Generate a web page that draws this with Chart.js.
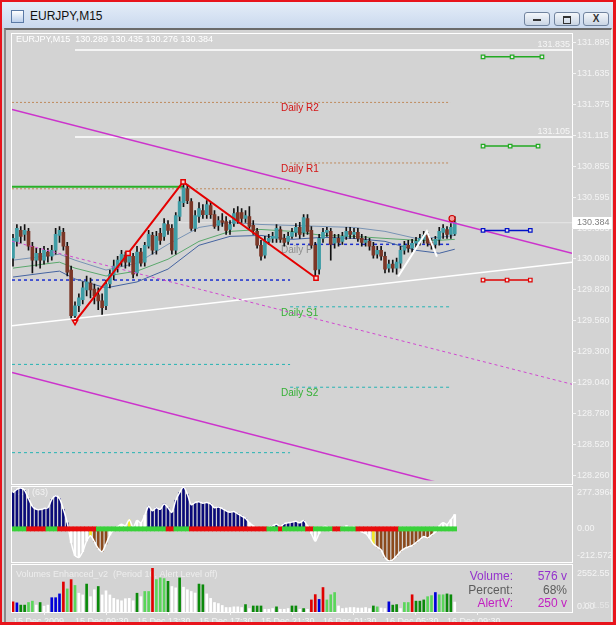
<!DOCTYPE html>
<html>
<head>
<meta charset="utf-8">
<script src="https://cdn.jsdelivr.net/npm/chart.js@4.4.1/dist/chart.umd.min.js"></script>
<style>
html, body { margin: 0; padding: 0; }
body { width: 616px; height: 625px; position: relative; overflow: hidden; background: #d3d3d3; font-family: 'Liberation Sans', Arial, sans-serif; }
#frame { position: absolute; left: 0; top: 0; width: 616px; height: 625px; box-sizing: border-box; border: 2px solid #e8141c; border-right-width: 3px; border-bottom-width: 3px; z-index: 20; pointer-events: none; }
#titlebar { position: absolute; left: 2px; top: 2px; width: 611px; height: 26px; background: linear-gradient(#e4edf8, #cad9ee); }
#appicon { position: absolute; left: 9px; top: 8px; width: 11px; height: 11px; border: 1px solid #5b7aa6; background: linear-gradient(#ffffff, #bcd0ec); }
#title { position: absolute; left: 28px; top: 7px; font-size: 12px; color: #111; }
.btn { position: absolute; top: 10px; width: 24px; height: 12px; border: 1px solid #70839e; border-radius: 3px; background: linear-gradient(#f4f7fb, #c9d5e4); }
.btn .min { position: absolute; left: 8px; top: 6px; width: 8px; height: 2px; background: #333; }
.btn .rest { position: absolute; left: 8px; top: 3px; width: 6px; height: 5px; border: 1px solid #333; border-top-width: 2px; }
.btn .cls { position: absolute; left: 0; top: 0; width: 24px; text-align: center; font-size: 10px; line-height: 12px; font-weight: bold; color: #333; }
#win { position: absolute; left: 4px; top: 28px; width: 608px; height: 594px; box-sizing: border-box; border-top: 2px solid #6b6b6b; border-left: 2px solid #8a8a8a; border-right: 1px solid #efefef; }
.panel { position: absolute; left: 11px; width: 562px; box-sizing: border-box; border: 1px solid #ffffff; }
canvas { position: absolute; left: 0; z-index: 5; }
</style>
</head>
<body>
<div id="titlebar">
  <div id="appicon"></div>
  <div id="title">EURJPY,M15</div>
  <div class="btn" style="left:522px"><div class="min"></div></div>
  <div class="btn" style="left:552px"><div class="rest"></div></div>
  <div class="btn" style="left:581px"><div class="cls">X</div></div>
</div>
<div id="win"></div>
<div class="panel" style="top:33px;height:452px"></div>
<div class="panel" style="top:486px;height:77px"></div>
<div class="panel" style="top:564px;height:49px"></div>
<canvas id="priceChart" width="616" height="458" style="top:28px"></canvas>
<canvas id="cciChart" width="616" height="78" style="top:485px"></canvas>
<canvas id="volChart" width="616" height="62" style="top:563px"></canvas>
<div id="frame"></div>
<script>
// EURJPY M15 candles, 15 Dec 2009 05:30 .. 16 Dec 10:00
const openP = [130.086,130.227,130.319,130.286,130.311,130.186,130.069,130.127,130.069,130.136,
130.102,130.152,130.277,130.302,130.186,129.986,129.602,129.686,129.736,129.819,
129.877,129.827,129.777,129.727,129.686,129.869,129.944,130.011,130.061,130.111,
130.052,130.102,129.961,130.136,130.052,130.186,130.277,130.152,130.294,130.269,
130.369,130.336,130.152,130.436,130.552,130.669,130.561,130.336,130.436,130.486,
130.452,130.527,130.452,130.361,130.402,130.394,130.327,130.377,130.469,130.469,
130.419,130.436,130.361,130.311,130.194,130.111,130.227,130.252,130.252,130.327,
130.252,130.227,130.269,130.302,130.344,130.302,130.419,130.319,130.194,129.994,
130.252,130.302,130.311,130.211,130.252,130.227,130.269,130.311,130.286,130.302,
130.252,130.219,130.227,130.186,130.119,130.152,130.102,130.002,130.036,130.002,
130.044,130.152,130.194,130.169,130.211,130.227,130.244,130.277,130.219,130.202,
130.244,130.302,130.327,130.286,130.289];
const highP = [130.286,130.369,130.352,130.369,130.336,130.219,130.169,130.169,130.186,130.169,
130.194,130.336,130.352,130.336,130.219,130.019,129.719,129.786,129.886,129.936,
129.919,129.869,129.836,129.786,129.902,129.986,130.069,130.102,130.152,130.136,
130.136,130.127,130.186,130.169,130.219,130.319,130.302,130.311,130.336,130.419,
130.402,130.369,130.469,130.602,130.727,130.702,130.586,130.486,130.552,130.536,
130.569,130.552,130.486,130.436,130.461,130.436,130.402,130.502,130.519,130.502,
130.486,130.519,130.402,130.336,130.236,130.269,130.286,130.302,130.369,130.352,
130.286,130.302,130.336,130.377,130.386,130.452,130.452,130.352,130.219,130.286,
130.336,130.344,130.336,130.286,130.286,130.302,130.344,130.344,130.336,130.336,
130.286,130.269,130.252,130.219,130.186,130.186,130.136,130.069,130.069,130.086,
130.186,130.227,130.236,130.244,130.261,130.286,130.311,130.302,130.252,130.269,
130.344,130.369,130.352,130.377,130.435];
const lowP = [130.019,130.186,130.211,130.236,130.152,129.961,130.019,130.002,130.036,130.052,
130.069,130.119,130.219,130.152,129.936,129.569,129.552,129.636,129.702,129.769,
129.752,129.702,129.652,129.611,129.652,129.836,129.902,129.969,130.019,130.002,
130.019,129.919,129.936,130.019,130.019,130.169,130.119,130.119,130.202,130.236,
130.286,130.119,130.119,130.402,130.519,130.544,130.319,130.311,130.386,130.419,
130.419,130.419,130.336,130.319,130.352,130.286,130.286,130.352,130.377,130.386,
130.386,130.336,130.286,130.169,130.069,130.086,130.202,130.219,130.219,130.219,
130.186,130.202,130.252,130.269,130.252,130.269,130.286,130.169,129.919,129.952,
130.219,130.269,130.069,130.169,130.186,130.202,130.244,130.252,130.252,130.227,
130.186,130.186,130.152,130.086,130.086,130.069,129.961,129.969,129.969,129.952,
130.002,130.119,130.136,130.136,130.177,130.194,130.211,130.186,130.161,130.169,
130.194,130.252,130.252,130.252,130.276];
const closeP = [130.252,130.336,130.269,130.319,130.186,130.069,130.127,130.069,130.152,130.102,
130.152,130.286,130.319,130.186,129.969,129.602,129.686,129.752,129.836,129.886,
129.819,129.769,129.727,129.669,129.869,129.952,130.019,130.069,130.119,130.052,
130.102,129.952,130.136,130.044,130.194,130.286,130.152,130.269,130.236,130.377,
130.319,130.152,130.444,130.561,130.677,130.569,130.336,130.444,130.502,130.452,
130.536,130.452,130.352,130.402,130.386,130.319,130.369,130.461,130.402,130.419,
130.444,130.352,130.319,130.194,130.102,130.227,130.252,130.269,130.336,130.244,
130.219,130.269,130.302,130.344,130.286,130.427,130.311,130.194,129.986,130.252,
130.302,130.319,130.202,130.252,130.219,130.269,130.311,130.286,130.302,130.252,
130.219,130.236,130.186,130.111,130.152,130.102,129.994,130.036,130.002,130.052,
130.152,130.194,130.169,130.211,130.227,130.252,130.277,130.211,130.194,130.244,
130.311,130.336,130.286,130.344,130.384];

// moving-average envelope read at some bars
const maIndex  = [0, 8, 12, 16, 24, 32, 40, 48, 56, 64, 72, 80, 88, 96, 104, 110, 114];
const maUpper  = [130.069,130.102,130.119,130.069,129.986,130.044,130.202,130.344,130.386,130.369,130.361,130.352,130.344,130.311,130.252,130.261,130.277];
const maMiddle = [130.002,130.036,130.052,130.002,129.936,129.977,130.077,130.227,130.311,130.327,130.311,130.277,130.269,130.252,130.236,130.236,130.244];
const maLower  = [129.927,129.961,129.977,129.911,129.836,129.886,129.994,130.194,130.269,130.277,130.244,130.261,130.252,130.227,130.152,130.127,130.161];

const priceTicks = [131.895,131.635,131.375,131.115,130.855,130.595,130.335,130.080,129.820,129.560,129.300,129.040,128.780,128.520,128.260];
const timeTickIndex = [0, 16, 32, 48, 64, 80, 96, 112];
const timeLabels = ['15 Dec 2009','15 Dec 09:30','15 Dec 13:30','15 Dec 17:30','15 Dec 21:30','16 Dec 01:30','16 Dec 05:30','16 Dec 09:30'];

// pivots: previous day (left part) and current day (right part)
const pivotNames = ['Daily R2','Daily R1','Daily P','Daily S1','Daily S2'];
const pivotPrev  = [131.395, 130.669, 129.902, 129.193, 128.451];
const pivotToday = [131.395, 130.886, 130.202, 129.677, 129.001];
const dayStart = 71.5, pivotEnd = 112.8;

// drawn objects, [bar index, price]
const channelTop    = [[-0.26, 131.336], [144.26, 130.127]];
const channelBottom = [[-0.26, 129.126], [144.26, 127.908]];
const channelMid    = [[-0.26, 130.227], [144.26, 129.026]];
const supportLine   = [[-0.26, 129.518], [144.26, 130.052]];
const zigzagRed     = [[16, 129.552], [29.7, 130.127], [43.9, 130.727], [78.2, 129.919]];
const zigzagWhite   = [[99.4, 129.932], [106.8, 130.313], [109.4, 130.099]];
const whiteLevels   = [131.835, 131.105];
const whiteLevelStart = 16;
const greenLevel    = [[-0.26, 130.686], [43.9, 130.686]];
const targetPrices  = [131.778, 131.028, 130.319, 129.902];
const targetBars    = [[121.3, 128.8, 136.5], [121.3, 128.3, 135.5], [121.3, 127.5, 133.5], [121.3, 127.5, 133.5]];
const signalPoint   = [113.3, 130.419];

// CCI(63)
const cciValues = [240,262,270,255,200,150,130,128,135,140,
195,220,200,130,40,-90,-175,-188,-150,-80,
-45,-85,-130,-150,-100,-40,-5,15,30,20,
60,10,55,40,90,150,120,140,130,165,
140,110,190,240,277,230,160,175,180,170,
175,165,140,145,135,120,110,115,100,85,
70,40,20,5,-10,-5,10,20,30,15,
35,40,45,50,40,55,20,-30,-80,-30,
10,15,-15,-5,-10,5,20,10,15,-5,
-20,-30,-60,-100,-120,-140,-190,-212,-205,-180,
-150,-130,-120,-110,-90,-70,-50,-60,-40,-20,
20,40,30,60,95];
const cciStates = 'nnnnnnnnnnnnnnnwwwwwybbbbwwwwwywwwwnnnnnnnnnnnnnnnnnnnnnnnnnnwwwwwnnnnnnnnnnwwwwwwwwwwwwwwwwwybbbbbbbbbbbbbbbwwwwww';
const trendStates = 'ggggrrrrrgggrrrrrrrrrrggggggggggggggggggrrggggrrrrrrrrrrrrrrrrrrrrgggrggggggrrgggggrrggggrrrrrrrrrrrggggggggggggggg';
const cciTicks = [277.3968, 0, -212.572];
const cciTickText = ['277.3968', '0.00', '-212.572'];

// Volumes Enhanced_v2
const volumes = [590,530,400,400,550,630,400,550,340,400,
830,830,1050,1740,1340,1880,1540,1090,990,1620,
890,1290,1480,990,1230,990,790,710,650,770,
790,650,1090,890,1190,1190,2552,1880,1980,1940,
1780,1480,1400,1980,1440,1290,1190,1100,1620,1580,
1050,790,550,490,380,260,260,300,300,260,
430,200,350,350,350,160,160,200,300,160,
160,200,350,350,160,200,160,700,1010,730,
1420,700,1000,1130,350,200,230,260,260,230,
230,260,200,350,300,230,200,590,400,430,
200,550,550,1000,630,630,700,890,950,1130,
1000,1000,1050,1000,576];
const volumeStates = 'rbddllwdwwbbbrlrlwwdwwdwwwwwwwwwdwllrllldwwdwwwwddwwwwwwwwwwdwdddwwwdwwwddwdwrrbrlllwwwwwwwwwdlwwbddwllrdddllbllddw';
const volTicks = [2552.55, 0];
const volTickText = ['2552.55', '0.00'];

const xMin = -0.26, xMax = 144.26;
const lastBar = closeP.length - 1;
const FONT = 'Liberation Sans';
const axisText = '#f4f4f4';

const cciColors = { n: '#0a0a78', w: '#ffffff', y: '#f2e82a', b: '#8b4a1c' };
const trendColors = { g: '#39d13a', r: '#e80c0c' };
const volColors = { r: '#e00000', b: '#0000d8', d: '#0a8a0a', l: '#5ad65a', w: '#ffffff' };

// right price scale: fixed width, no extra room reserved for labels
function fixedWidth(scale) {
    scale.width = 40;
    scale.paddingTop = 0;
    scale.paddingBottom = 0;
}

function pts(list) { return list.map(p => ({ x: p[0], y: p[1] })); }

function line(points, color, opts) {
    return Object.assign({
        type: 'line', data: pts(points), borderColor: color, borderWidth: 1,
        pointRadius: 0, tension: 0, order: 20
    }, opts || {});
}

function xScale(show) {
    return { type: 'linear', min: xMin, max: xMax, offset: false, display: show };
}

// ---------- main price window ----------
const pivotLineColors = ['#bf8a5c', '#bf8a5c', '#1c2ecf', '#25b3b3', '#25b3b3'];
const pivotTextColors = ['#d41414', '#d41414', '#8d8d8d', '#35b035', '#35b035'];
const pivotDash = [[2, 2], [2, 2], [3, 3], [3, 3], [3, 3]];

const mainDatasets = [];
pivotNames.forEach((name, k) => {
    mainDatasets.push(line([[xMin, pivotPrev[k]], [dayStart, pivotPrev[k]]], pivotLineColors[k],
        { borderDash: pivotDash[k], borderWidth: k === 2 ? 1.5 : 1 }));
    mainDatasets.push(line([[dayStart, pivotToday[k]], [pivotEnd, pivotToday[k]]], pivotLineColors[k],
        { borderDash: pivotDash[k], borderWidth: k === 2 ? 1.5 : 1 }));
});
mainDatasets.push(line([[xMin, closeP[lastBar]], [xMax, closeP[lastBar]]], '#e6e6e6', { order: 21 }));
whiteLevels.forEach(v => mainDatasets.push(line([[whiteLevelStart, v], [xMax, v]], '#ffffff', { borderWidth: 1.5, order: 19 })));
mainDatasets.push(line(greenLevel, '#28b028', { borderWidth: 2, order: 19 }));
mainDatasets.push(line(maIndex.map((b, k) => [b, maUpper[k]]), '#7893b4', { order: 8 }));
mainDatasets.push(line(maIndex.map((b, k) => [b, maMiddle[k]]), '#5aa86c', { order: 8 }));
mainDatasets.push(line(maIndex.map((b, k) => [b, maLower[k]]), '#4564a0', { order: 8 }));
mainDatasets.push({
    type: 'bar', order: 6, grouped: false, barThickness: 1,
    data: lowP.map((l, i) => ({ x: i, y: [l, highP[i]] })),
    backgroundColor: '#111111'
});
mainDatasets.push({
    type: 'bar', order: 5, grouped: false, barThickness: 3,
    data: openP.map((o, i) => ({ x: i, y: [o, closeP[i]] })),
    backgroundColor: openP.map((o, i) => closeP[i] >= o ? '#3f9da6' : '#7b3727')
});
mainDatasets.push(line(channelTop, '#cc33cc', { borderWidth: 1.5, order: 3 }));
mainDatasets.push(line(channelBottom, '#cc33cc', { borderWidth: 1.5, order: 3 }));
mainDatasets.push(line(channelMid, '#d048d0', { borderDash: [3, 3], order: 3 }));
mainDatasets.push(line(supportLine, '#ffffff', { borderWidth: 1.5, order: 3 }));
mainDatasets.push(line(zigzagRed, '#e40000', {
    borderWidth: 2, order: 2, pointRadius: 3, pointBorderWidth: 1.5,
    pointStyle: ctx => ctx.dataIndex === 0 ? 'triangle' : 'rect',
    pointRotation: ctx => ctx.dataIndex === 0 ? 180 : 0,
    pointBackgroundColor: '#f0d0d0', pointBorderColor: '#e40000'
}));
mainDatasets.push(line(zigzagWhite, '#ffffff', { borderWidth: 2, order: 2 }));
const targetColors = ['#22aa22', '#22aa22', '#0010c8', '#e00000'];
targetPrices.forEach((v, k) => {
    mainDatasets.push(line(targetBars[k].map(b => [b, v]), targetColors[k], {
        borderWidth: 1.5, order: 1, pointRadius: 2.5, pointStyle: 'rect', pointBorderWidth: 1.2,
        pointBackgroundColor: '#e8e8e8', pointBorderColor: targetColors[k]
    }));
});
mainDatasets.push(line([signalPoint], '#e00000', {
    order: 1, pointRadius: 3, pointBorderWidth: 1.2, pointBackgroundColor: '#f29a9a', pointBorderColor: '#d00000'
}));

const mainText = {
    id: 'mainText',
    beforeDatasetsDraw(chart) {
        const { ctx, chartArea, scales: { x, y } } = chart;
        ctx.save();
        ctx.font = '10px "' + FONT + '"';
        ctx.textBaseline = 'top';
        pivotNames.forEach((name, k) => {
            ctx.fillStyle = pivotTextColors[k];
            ctx.fillText(name, x.getPixelForValue(dayStart) - 9, y.getPixelForValue(pivotToday[k]) + 1);
        });
        ctx.font = '9px "' + FONT + '"';
        ctx.textBaseline = 'middle';
        ctx.fillStyle = '#ffffff';
        const head = 'EURJPY,M15  ' + [openP[lastBar], highP[lastBar], lowP[lastBar], closeP[lastBar]].map(v => v.toFixed(3)).join(' ');
        ctx.fillText(head, 16, chartArea.top + 6);
        ctx.restore();
    },
    afterDraw(chart) {
        const { ctx, chartArea, scales: { y } } = chart;
        ctx.save();
        ctx.font = '9px "' + FONT + '"';
        ctx.fillStyle = '#f6f6f6';
        ctx.textAlign = 'right';
        ctx.textBaseline = 'bottom';
        whiteLevels.forEach(v => ctx.fillText(v.toFixed(3), chartArea.right - 2, y.getPixelForValue(v) - 1));
        const py = Math.round(y.getPixelForValue(closeP[lastBar]));
        ctx.fillStyle = '#ffffff';
        ctx.fillRect(chartArea.right + 1, py - 6, 39, 12);
        ctx.fillStyle = '#808080';
        ctx.textAlign = 'left';
        ctx.textBaseline = 'middle';
        ctx.fillText(closeP[lastBar].toFixed(3), chartArea.right + 5, py);
        ctx.restore();
    }
};

new Chart(document.getElementById('priceChart'), {
    type: 'bar',
    data: { datasets: mainDatasets },
    options: {
        responsive: false, animation: false, events: [],
        layout: { padding: { left: 12, right: 4, top: 6, bottom: 2 } },
        plugins: { legend: { display: false }, tooltip: { enabled: false } },
        scales: {
            x: xScale(false),
            y: {
                position: 'right', min: 128.217, max: 131.970, afterFit: fixedWidth,
                afterBuildTicks: s => { s.ticks = priceTicks.map(v => ({ value: v })); },
                ticks: { color: axisText, font: { family: FONT, size: 9 }, padding: 1, callback: v => v.toFixed(3) },
                grid: { drawOnChartArea: false, tickLength: 4, color: '#f4f4f4' },
                border: { display: false }
            }
        }
    },
    plugins: [mainText]
});

// ---------- CCI window ----------
const cciText = {
    id: 'cciText',
    beforeDatasetsDraw(chart) {
        const { ctx, chartArea } = chart;
        ctx.save();
        ctx.font = '9px "' + FONT + '"';
        ctx.fillStyle = '#f2f2f2';
        ctx.textBaseline = 'middle';
        ctx.fillText('CCI (63)', 14, chartArea.top + 6);
        ctx.restore();
    }
};

new Chart(document.getElementById('cciChart'), {
    type: 'bar',
    data: {
        datasets: [
            {
                type: 'bar', order: 0, grouped: false, barPercentage: 1, categoryPercentage: 1,
                data: cciValues.map((v, i) => ({ x: i, y: [-14, 14] })),
                backgroundColor: cciValues.map((v, i) => trendColors[trendStates[i]])
            },
            {
                type: 'line', order: 1, data: cciValues.map((v, i) => ({ x: i, y: v })),
                borderColor: '#ffffff', borderWidth: 1.5, pointRadius: 0, tension: 0.3
            },
            {
                type: 'bar', order: 2, grouped: false, barThickness: 2,
                data: cciValues.map((v, i) => ({ x: i, y: v })),
                backgroundColor: cciValues.map((v, i) => cciColors[cciStates[i]])
            }
        ]
    },
    options: {
        responsive: false, animation: false, events: [],
        layout: { padding: { left: 12, right: 4, top: 2, bottom: 2 } },
        plugins: { legend: { display: false }, tooltip: { enabled: false } },
        scales: {
            x: xScale(false),
            y: {
                position: 'right', min: -212.572, max: 277.3968, afterFit: fixedWidth,
                afterBuildTicks: s => { s.ticks = cciTicks.map(v => ({ value: v })); },
                ticks: {
                    color: axisText, font: { family: FONT, size: 9 }, padding: 5,
                    callback: v => {
                        const t = cciTickText[cciTicks.indexOf(v)];
                        return v > 0 ? ['', t] : v < 0 ? [t, ''] : t;
                    }
                },
                grid: { display: false, drawTicks: false },
                border: { display: false }
            }
        }
    },
    plugins: [cciText]
});

// ---------- Volumes window ----------
const volText = {
    id: 'volText',
    beforeDatasetsDraw(chart) {
        const { ctx, chartArea } = chart;
        ctx.save();
        ctx.font = '9px "' + FONT + '"';
        ctx.fillStyle = '#ededed';
        ctx.textBaseline = 'middle';
        ctx.fillText('Volumes Enhanced_v2  (Period 10, Alert Level off)', 16, chartArea.top + 7);
        ctx.restore();
    },
    afterDraw(chart) {
        const { ctx, chartArea } = chart;
        ctx.save();
        ctx.font = '12px "' + FONT + '"';
        ctx.textBaseline = 'middle';
        ctx.textAlign = 'right';
        const rows = [
            ['Volume:', volumes[lastBar] + ' v', '#9433cc'],
            ['Percent:', '68%', '#5c5c5c'],
            ['AlertV:', '250 v', '#c21ec2']
        ];
        rows.forEach((r, k) => {
            const yy = chartArea.top + 9 + k * 13.5;
            ctx.fillStyle = r[2];
            ctx.fillText(r[0], 513, yy);
            ctx.fillText(r[1], 567, yy);
        });
        ctx.font = '9px "' + FONT + '"';
        ctx.textAlign = 'left';
        ctx.fillStyle = '#e6e6e6';
        ctx.fillText('121.55', chartArea.right + 10, chartArea.bottom - 6);
        ctx.restore();
    }
};

new Chart(document.getElementById('volChart'), {
    type: 'bar',
    data: {
        datasets: [{
            data: volumes.map((v, i) => ({ x: i, y: v })),
            barThickness: 2, grouped: false,
            backgroundColor: volumes.map((v, i) => volColors[volumeStates[i]])
        }]
    },
    options: {
        responsive: false, animation: false, events: [],
        layout: { padding: { left: 12, right: 4, top: 5, bottom: 0 } },
        plugins: { legend: { display: false }, tooltip: { enabled: false } },
        scales: {
            x: {
                type: 'linear', min: xMin, max: xMax, offset: false, position: 'bottom',
                afterFit: s => { s.height = 13; s.paddingLeft = 0; s.paddingRight = 0; },
                afterBuildTicks: s => { s.ticks = timeTickIndex.map(v => ({ value: v })); },
                ticks: {
                    color: axisText, font: { family: FONT, size: 9 }, padding: 1, align: 'start',
                    autoSkip: false, maxRotation: 0,
                    callback: v => timeLabels[timeTickIndex.indexOf(v)]
                },
                grid: { drawOnChartArea: false, tickLength: 3, color: '#f4f4f4' },
                border: { display: false }
            },
            y: {
                position: 'right', min: 0, max: 2552.55, afterFit: fixedWidth,
                afterBuildTicks: s => { s.ticks = volTicks.map(v => ({ value: v })); },
                ticks: {
                    color: axisText, font: { family: FONT, size: 9 }, padding: 5,
                    callback: v => {
                        const t = volTickText[volTicks.indexOf(v)];
                        return v > 0 ? ['', t] : [t, ''];
                    }
                },
                grid: { display: false, drawTicks: false },
                border: { display: false }
            }
        }
    },
    plugins: [volText]
});
</script>
</body>
</html>
